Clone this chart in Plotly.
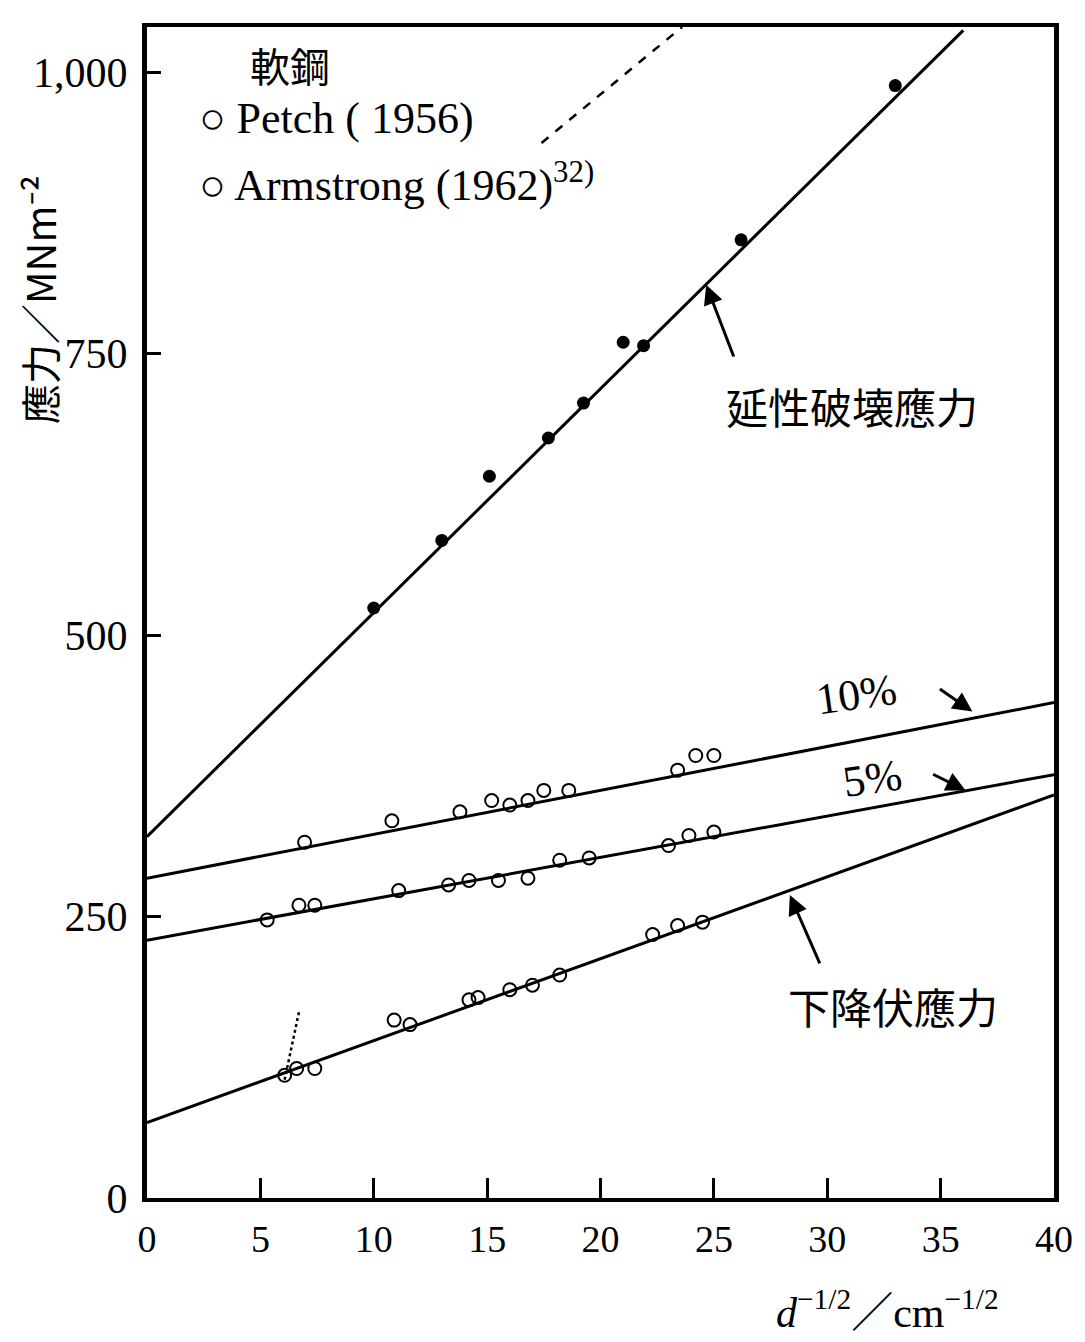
import plotly.graph_objects as go

# ---- data ----
ductile_x = [10.0, 13.0, 15.1, 17.7, 19.25, 21.0, 21.9, 26.2, 33.0]
ductile_y = [524, 584, 641, 675, 706, 760, 757, 851, 988]

p10_x = [6.95, 10.8, 13.8, 15.2, 16.0, 16.8, 17.5, 18.6, 23.4, 24.2, 25.0]
p10_y = [316, 335, 343, 353, 349, 353, 362, 362, 380, 393, 393]

p5_x = [5.3, 6.7, 7.4, 11.1, 13.3, 14.2, 15.5, 16.8, 18.2, 19.5, 23.0, 23.9, 25.0]
p5_y = [247, 260, 260, 273, 278, 282, 282, 284, 300, 302, 313, 322, 325]

lys_x = [6.07, 6.6, 7.4, 10.9, 11.6, 14.2, 14.6, 16.0, 17.0, 18.2, 22.3, 23.4, 24.5]
lys_y = [109, 115, 115, 158, 154, 176, 178, 185, 189, 198, 234, 242, 245]

ductile_line_x = [0, 36]
ductile_line_y = [321, 1037]
line10_x = [0, 40]
line10_y = [284, 440]
line5_x = [0, 40]
line5_y = [229, 376]
lys_line_x = [0, 40]
lys_line_y = [67, 358]
dash_upper_x = [17.4, 23.6]
dash_upper_y = [937, 1040]
dash_small_x = [6.07, 6.7]
dash_small_y = [105, 165]

x_ticks = [0, 5, 10, 15, 20, 25, 30, 35, 40]
y_ticks = [0, 250, 500, 750, 1000]
y_ticktext = ["0", "250", "500", "750", "1,000"]

FONT = "Liberation Serif, Noto Sans CJK JP, serif"
CJK = "Noto Sans CJK JP, Liberation Serif, sans-serif"

fig = go.Figure()

line_style = dict(color="black", width=3)
for lx, ly in [(ductile_line_x, ductile_line_y), (line10_x, line10_y),
               (line5_x, line5_y), (lys_line_x, lys_line_y)]:
    fig.add_trace(go.Scatter(x=lx, y=ly, mode="lines", line=line_style,
                             showlegend=False, hoverinfo="skip"))

fig.add_trace(go.Scatter(x=dash_upper_x, y=dash_upper_y, mode="lines",
                         line=dict(color="black", width=2.5, dash="dash"),
                         showlegend=False, hoverinfo="skip"))
fig.add_trace(go.Scatter(x=dash_small_x, y=dash_small_y, mode="lines",
                         line=dict(color="black", width=2.5, dash="dot"),
                         showlegend=False, hoverinfo="skip"))

fig.add_trace(go.Scatter(x=ductile_x, y=ductile_y, mode="markers",
                         marker=dict(symbol="circle", size=13, color="black"),
                         showlegend=False))
for px, py in [(p10_x, p10_y), (p5_x, p5_y), (lys_x, lys_y)]:
    fig.add_trace(go.Scatter(x=px, y=py, mode="markers",
                             marker=dict(symbol="circle-open", size=13, color="black",
                                         line=dict(width=2)),
                             showlegend=False))

annotations = []
def label(text, x, y, size=42, font=CJK, **kw):
    annotations.append(dict(text=text, x=x, y=y, xref="x", yref="y", showarrow=False,
                            font=dict(family=font, size=size, color="black"), **kw))

def arrow(x, y, ax, ay):
    annotations.append(dict(text="", x=x, y=y, ax=ax, ay=ay, xref="x", yref="y",
                            axref="x", ayref="y", showarrow=True, arrowhead=2,
                            arrowsize=1.3, arrowwidth=3, arrowcolor="black"))

label("延性破壊應力", 31.1, 704)
arrow(24.66, 811, 25.9, 746)
label("10%", 31.3, 447, size=44, font=FONT, textangle=-8)
arrow(36.4, 432, 34.9, 453)
label("5%", 32.0, 373, size=44, font=FONT, textangle=-8)
arrow(36.1, 362, 34.6, 377)
label("下降伏應力", 32.9, 171)
arrow(28.35, 269, 29.7, 207)
label("軟鋼", 6.3, 1006, size=40)
label("○ Petch ( 1956)", 2.2, 959, size=44, font=FONT, xanchor="left")
label("○ Armstrong (1962)<sup>32)</sup>", 2.2, 902, size=44, font=FONT, xanchor="left")

annotations.append(dict(text="應力／MNm⁻²", x=-0.119, y=0.767, xref="paper",
                        yref="paper", showarrow=False, textangle=-90,
                        xanchor="center", yanchor="middle",
                        font=dict(family=CJK, size=40, color="black")))
annotations.append(dict(text="<i>d</i><sup>−1/2</sup>／cm<sup>−1/2</sup>", x=0.816, y=-0.0956,
                        xref="paper", yref="paper", showarrow=False,
                        xanchor="center", yanchor="middle",
                        font=dict(family=FONT, size=42, color="black")))

fig.update_layout(
    width=1077, height=1334,
    margin=dict(l=139, r=28, t=19, b=144),
    paper_bgcolor="white", plot_bgcolor="white",
    font=dict(family=FONT, size=34, color="black"),
    annotations=annotations,
    showlegend=False,
)
fig.update_xaxes(range=[0, 40], tickvals=x_ticks, ticks="inside", ticklen=20, tickwidth=3,
                 tickcolor="black", showline=True, linewidth=4, linecolor="black",
                 mirror=True, showgrid=False, zeroline=False,
                 tickfont=dict(family=FONT, size=38), ticklabelstandoff=4)
fig.update_yaxes(range=[0, 1040], tickvals=y_ticks, ticktext=y_ticktext, ticks="inside",
                 ticklen=14, tickwidth=3, tickcolor="black", showline=True, linewidth=5,
                 linecolor="black", mirror=True, showgrid=False, zeroline=False,
                 tickfont=dict(family=FONT, size=42), ticklabelstandoff=6)

fig.write_html("out.html")
